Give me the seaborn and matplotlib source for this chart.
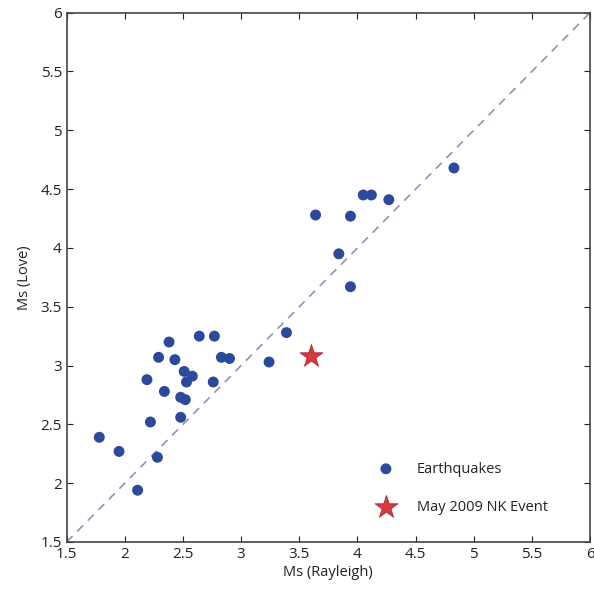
import numpy as np
import pandas as pd
import matplotlib
matplotlib.use("Agg")
import matplotlib.pyplot as plt
import seaborn as sns

# Surface-wave magnitudes
ms_rayleigh = [1.78, 1.95, 2.11, 2.28, 2.22, 2.19, 2.29, 2.38, 2.43, 2.34,
               2.48, 2.52, 2.48, 2.51, 2.58, 2.53, 2.64, 2.77, 2.83, 2.90,
               2.76, 3.24, 3.39, 4.83, 4.05, 4.12, 4.27, 3.64, 3.94, 3.84,
               3.94]
ms_love = [2.39, 2.27, 1.94, 2.22, 2.52, 2.88, 3.07, 3.20, 3.05, 2.78,
           2.73, 2.71, 2.56, 2.95, 2.91, 2.86, 3.25, 3.25, 3.07, 3.06,
           2.86, 3.03, 3.28, 4.68, 4.45, 4.45, 4.41, 4.28, 4.27, 3.95,
           3.67]

nk_rayleigh = [3.60]
nk_love = [3.08]

one_to_one = [1.5, 6.0]
ticks = [1.5, 2, 2.5, 3, 3.5, 4, 4.5, 5, 5.5, 6]
tick_labels = ["1.5", "2", "2.5", "3", "3.5", "4", "4.5", "5", "5.5", "6"]

quakes = pd.DataFrame({"rayleigh": ms_rayleigh, "love": ms_love})
nk = pd.DataFrame({"rayleigh": nk_rayleigh, "love": nk_love})

sns.set_style("ticks")
plt.rcParams["font.family"] = ["Open Sans", "DejaVu Sans"]

fig = plt.figure(figsize=(5.94, 5.90), dpi=100)
ax = fig.add_axes([0.1123, 0.0814, 0.881, 0.8971])

# 1:1 reference line
ax.plot(one_to_one, one_to_one, linestyle=(0, (5, 4)), color="#8e93b4", linewidth=1.2, zorder=1)

sns.scatterplot(data=quakes, x="rayleigh", y="love", ax=ax, color="#2b4a9b",
                s=62, edgecolor="none", label="Earthquakes", zorder=3)
sns.scatterplot(data=nk, x="rayleigh", y="love", ax=ax, color="#d43a3e", marker="*",
                s=300, edgecolor="#b02a30", linewidth=0.6, label="May 2009 NK Event", zorder=4)

ax.set_xlim(1.5, 6)
ax.set_ylim(1.5, 6)
ax.set_xticks(ticks)
ax.set_xticklabels(tick_labels)
ax.set_yticks(ticks)
ax.set_yticklabels(tick_labels)
ax.tick_params(direction="in", top=True, right=True, length=4, labelsize=11, colors="#222222")
for side in ["top", "right", "bottom", "left"]:
    ax.spines[side].set_visible(True)
    ax.spines[side].set_color("#444444")
    ax.spines[side].set_linewidth(1.2)

ax.set_xlabel("Ms (Rayleigh)", fontsize=10.5, color="#222222", labelpad=2)
ax.set_ylabel("Ms (Love)", fontsize=10.5, color="#222222", labelpad=6)

leg = ax.legend(loc="lower right", frameon=False, fontsize=10.5, handletextpad=1.1,
                labelspacing=1.6, borderaxespad=0.0, bbox_to_anchor=(0.93, 0.04))
for t in leg.get_texts():
    t.set_color("#222222")

fig.savefig("out.png", dpi=100)
